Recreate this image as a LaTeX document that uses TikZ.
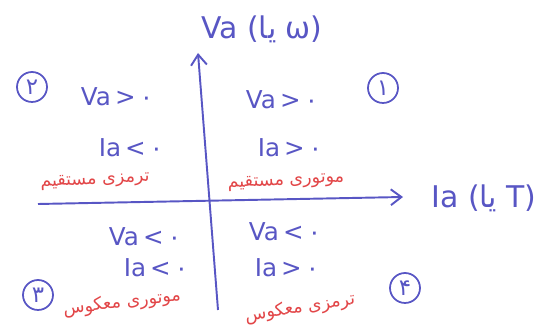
\documentclass[tikz,border=0pt]{standalone}
\usepackage{fontspec}
\setmainfont{DejaVu Sans}
\newfontfamily\arabicfont[Script=Arabic]{DejaVu Sans}
\TeXXeTstate=1
\usetikzlibrary{arrows.meta}
\definecolor{penblue}{RGB}{88,86,196}
\definecolor{penred}{RGB}{226,70,72}

\begin{document}
\begin{tikzpicture}[x=0.02cm,y=-0.02cm,
  >={Straight Barb[length=6pt,width=9pt]},
  axis/.style={draw=penblue,line width=1.1pt,->},
  axlabel/.style={text=penblue,font=\fontsize{17}{20}\selectfont},
  cond/.style={text=penblue,font=\fontsize{14}{16}\selectfont},
  mode/.style={text=penred,font=\arabicfont\fontsize{10}{12}\selectfont},
  quad/.style={draw=penblue,line width=1pt,circle,minimum size=0.6cm,inner sep=0pt,
    text=penblue,font=\arabicfont\fontsize{13}{15}\selectfont}
]
\useasboundingbox (0,0) rectangle (552,327);

% axes
\coordinate (vbot) at (218,310);
\coordinate (vtop) at (198,53);
\coordinate (hleft) at (38,204);
\coordinate (hright) at (403,197);
\draw[axis] (vbot) -- (vtop);
\draw[axis] (hleft) -- (hright);
\node[axlabel] (vlab) at (262,29) {Va ({\arabicfont\beginR یا\endR} ω)};
\node[axlabel] (hlab) at (484,198) {Ia ({\arabicfont\beginR یا\endR} T)};

% quadrant numbers
\node[quad] (q1) at (383,88) {۱};
\node[quad] (q2) at (32,87) {۲};
\node[quad] (q3) at (38,295) {۳};
\node[quad] (q4) at (405,288) {۴};

% signs
\node[cond] (va1) at (282,100) {Va\,>\,۰};
\node[cond] (ia1) at (290,148) {Ia\,>\,۰};
\node[cond] (va2) at (117,97) {Va\,>\,۰};
\node[cond] (ia2) at (131,148) {Ia\,<\,۰};
\node[cond] (va3) at (145,237) {Va\,<\,۰};
\node[cond] (ia3) at (156,268) {Ia\,<\,۰};
\node[cond] (va4) at (285,232) {Va\,<\,۰};
\node[cond] (ia4) at (287,268) {Ia\,>\,۰};

% operating modes
\node[mode,rotate=3] (m1) at (286,182) {\beginR موتوری مستقیم\endR};
\node[mode,rotate=3] (m2) at (95,181) {\beginR ترمزی مستقیم\endR};
\node[mode,rotate=7] (m3) at (122,303) {\beginR موتوری معکوس\endR};
\node[mode,rotate=9] (m4) at (300,308) {\beginR ترمزی معکوس\endR};
\end{tikzpicture}
\end{document}
